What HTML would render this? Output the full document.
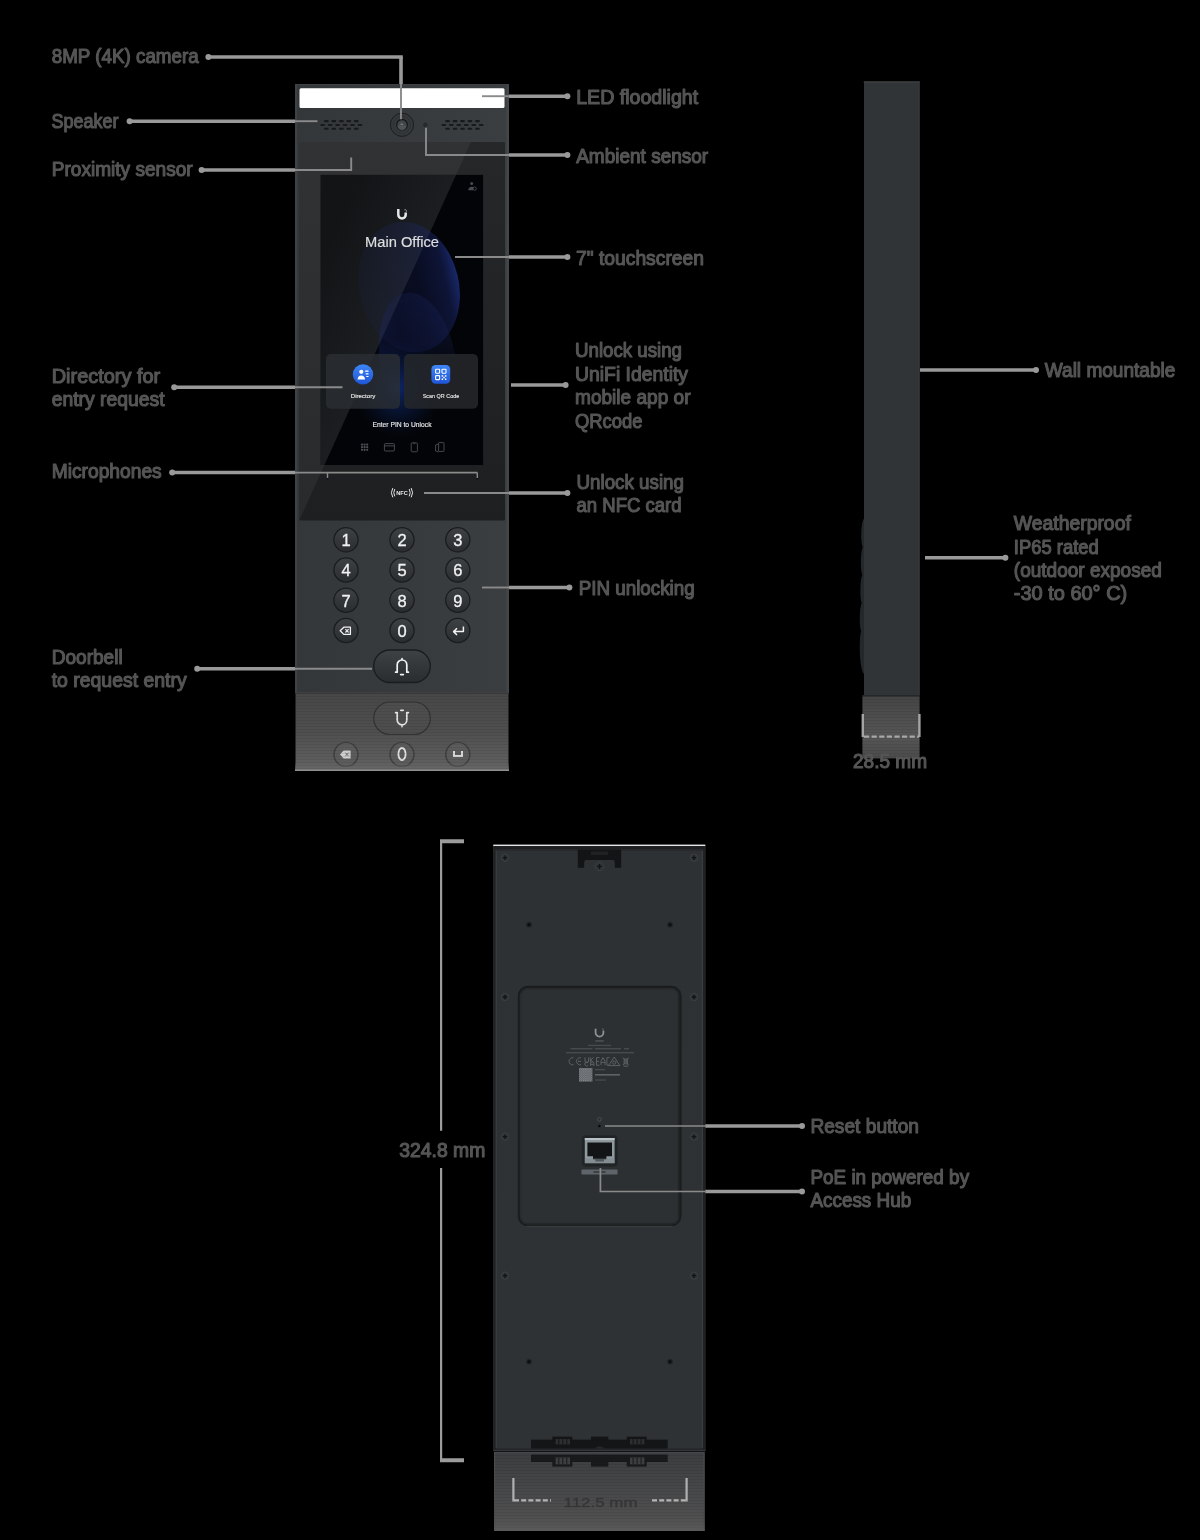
<!DOCTYPE html>
<html><head><meta charset="utf-8">
<title>Intercom overview</title>
<style>
html,body{margin:0;padding:0;background:#000;}
body{width:1200px;height:1540px;overflow:hidden;position:relative;font-family:"Liberation Sans",sans-serif;}
svg{position:absolute;left:0;top:0;display:block;will-change:transform;}
text{font-family:"Liberation Sans",sans-serif;}
.lb{font-size:20px;fill:#555;stroke:#555;stroke-width:1.15px;stroke-linejoin:round;}
.ln{stroke:#999;stroke-width:3.6;fill:none;}
.li{stroke:#8a8a8a;stroke-width:1.9;fill:none;}
.dt{fill:#999;}
.kd{font-size:16.5px;fill:#f2f2f2;text-anchor:middle;stroke:#f2f2f2;stroke-width:.3px;}
</style></head>
<body>
<svg width="1200" height="1540" viewBox="0 0 1200 1540">
<defs>
<linearGradient id="bodyG" x1="0" y1="0" x2="1" y2="0">
 <stop offset="0" stop-color="#33373a"/><stop offset="1" stop-color="#3a3e41"/>
</linearGradient>
<linearGradient id="keyG" x1="0" y1="0" x2="0" y2="1">
 <stop offset="0" stop-color="#3e4245"/><stop offset=".5" stop-color="#33373a"/><stop offset="1" stop-color="#2a2d30"/>
</linearGradient>
<linearGradient id="reflG" x1="0" y1="0" x2="0" y2="1">
 <stop offset="0" stop-color="#474747"/><stop offset=".5" stop-color="#4f4f4f"/><stop offset="1" stop-color="#626262"/>
</linearGradient>
<linearGradient id="reflB" x1="0" y1="0" x2="0" y2="1">
 <stop offset="0" stop-color="#3b3d3f"/><stop offset="1" stop-color="#535353"/>
</linearGradient>
<radialGradient id="blob" cx="0.5" cy="0.5" r="0.5">
 <stop offset="0" stop-color="#1d2a6e"/><stop offset=".7" stop-color="#18225a"/><stop offset="1" stop-color="#0b1030" stop-opacity="0"/>
</radialGradient>
<clipPath id="scr"><rect x="320.800" y="174.900" width="162.300" height="290.100"/></clipPath>
<clipPath id="gls"><rect x="299" y="142" width="206" height="378.5"/></clipPath>
<linearGradient id="scrRef" gradientUnits="userSpaceOnUse" x1="320" y1="260" x2="440" y2="315">
 <stop offset="0" stop-color="#0e0f11"/><stop offset="1" stop-color="#1c1e21"/>
</linearGradient>
<linearGradient id="blobA" x1="0" y1="0" x2="1" y2="0">
 <stop offset="0" stop-color="#182260" stop-opacity=".12"/><stop offset=".6" stop-color="#182260" stop-opacity=".3"/><stop offset=".86" stop-color="#182464" stop-opacity=".5"/><stop offset="1" stop-color="#1a2a6e" stop-opacity=".95"/>
</linearGradient>
<linearGradient id="blobB" x1="0" y1="0" x2="1" y2="0">
 <stop offset="0" stop-color="#1a2668" stop-opacity=".5"/><stop offset=".35" stop-color="#1a2460" stop-opacity=".25"/><stop offset="1" stop-color="#1b2868" stop-opacity=".35"/>
</linearGradient>
<linearGradient id="icoG" x1="0" y1="0" x2="0" y2="1">
 <stop offset="0" stop-color="#3d86f5"/><stop offset="1" stop-color="#1f55d8"/>
</linearGradient>
<linearGradient id="reflFade" x1="0" y1="0" x2="0" y2="1">
 <stop offset="0" stop-color="#666" stop-opacity="0"/><stop offset=".8" stop-color="#686868" stop-opacity=".8"/><stop offset=".86" stop-color="#8e8e8e"/><stop offset="1" stop-color="#8e8e8e"/>
</linearGradient>
<pattern id="scan" width="4" height="3" patternUnits="userSpaceOnUse"><rect width="4" height="1" fill="#000" fill-opacity=".07"/></pattern>
<linearGradient id="reflS" x1="0" y1="0" x2="0" y2="1">
 <stop offset="0" stop-color="#454545"/><stop offset=".65" stop-color="#565656"/><stop offset="1" stop-color="#4a4a4a"/>
</linearGradient>
<linearGradient id="backG" x1="0" y1="0" x2="0" y2="1">
 <stop offset="0" stop-color="#2e3133"/><stop offset="1" stop-color="#2f3234"/>
</linearGradient>
<linearGradient id="reflBF" x1="0" y1="0" x2="0" y2="1">
 <stop offset="0" stop-color="#555" stop-opacity="0"/><stop offset="1" stop-color="#5e5e5e" stop-opacity=".7"/>
</linearGradient>
<pattern id="qrp" width="2.200" height="2.200" patternUnits="userSpaceOnUse"><rect width="2.200" height="2.200" fill="#5a5e62"/><rect width="1.100" height="1.100" fill="#8b9094"/><rect x="1.100" y="1.100" width="1.100" height="1.100" fill="#7b8084"/></pattern>
<linearGradient id="glsG" x1="0" y1="0" x2="0" y2="1">
 <stop offset="0" stop-color="#252729"/><stop offset="1" stop-color="#1d1f20"/>
</linearGradient>
<radialGradient id="glowB" cx=".5" cy=".5" r=".5">
 <stop offset="0" stop-color="#103080" stop-opacity=".75"/><stop offset=".45" stop-color="#0e2a70" stop-opacity=".4"/><stop offset="1" stop-color="#0a1f50" stop-opacity="0"/>
</radialGradient>
<linearGradient id="fadeG" gradientUnits="userSpaceOnUse" x1="0" y1="292" x2="0" y2="400">
 <stop offset="0" stop-color="#fff"/><stop offset=".5" stop-color="#fff" stop-opacity=".7"/><stop offset="1" stop-color="#fff" stop-opacity="0"/>
</linearGradient>
<mask id="fadeM" maskUnits="userSpaceOnUse" x="300" y="280" width="220" height="200"><rect x="300" y="280" width="220" height="200" fill="url(#fadeG)"/></mask>
<filter id="b1" x="-5%" y="-5%" width="110%" height="110%"><feGaussianBlur stdDeviation="1.300"/></filter>
<clipPath id="pnl"><rect x="518" y="986" width="163.200" height="240" rx="9.500"/></clipPath>
</defs>

<!-- ================= FRONT DEVICE ================= -->
<g id="front">
<rect x="295" y="84" width="214" height="608" fill="url(#bodyG)"/>
<rect x="295" y="84" width="2.2" height="608" fill="#3e4245"/>
<rect x="506.400" y="84" width="2.600" height="608" fill="#43474a"/>
<rect x="295" y="84" width="214" height="1.2" fill="#3d4144"/>
<!-- LED -->
<rect x="299.5" y="88.2" width="205" height="19.8" rx="1.5" fill="#fff"/>
</g>
<g id="front-detail">
<!-- speaker grilles -->
<g fill="#17191a">
<g id="grl">
<rect x="324" y="120.1" width="4.7" height="2.1" rx="1"/><rect x="331.5" y="120.1" width="4.7" height="2.1" rx="1"/><rect x="339" y="120.1" width="4.7" height="2.1" rx="1"/><rect x="346.4" y="120.1" width="4.7" height="2.1" rx="1"/><rect x="353.9" y="120.1" width="4.7" height="2.1" rx="1"/>
<rect x="320.3" y="123.9" width="4.7" height="2.1" rx="1"/><rect x="327.8" y="123.9" width="4.7" height="2.1" rx="1"/><rect x="335.2" y="123.9" width="4.7" height="2.1" rx="1"/><rect x="342.7" y="123.9" width="4.7" height="2.1" rx="1"/><rect x="350.2" y="123.9" width="4.7" height="2.1" rx="1"/><rect x="357.6" y="123.9" width="4.7" height="2.1" rx="1"/>
<rect x="324" y="127.7" width="4.7" height="2.1" rx="1"/><rect x="331.5" y="127.7" width="4.7" height="2.1" rx="1"/><rect x="339" y="127.7" width="4.7" height="2.1" rx="1"/><rect x="346.4" y="127.7" width="4.7" height="2.1" rx="1"/><rect x="353.9" y="127.7" width="4.7" height="2.1" rx="1"/>
</g>
<use href="#grl" x="121.2"/>
</g>
<!-- camera -->
<circle cx="402" cy="124.800" r="11.600" fill="#34383a" stroke="#1b1d1f" stroke-width="1"/>
<circle cx="402" cy="124.800" r="8.600" fill="none" stroke="#2c2f31" stroke-width=".7"/>
<circle cx="402" cy="124.800" r="5.300" fill="#42464a" stroke="#161819" stroke-width="1.300"/>
<path d="M397.400 125.600a4.600 4.600 0 0 0 9.200 0z" fill="#4f5356"/>
<ellipse cx="401.800" cy="124.200" rx="1.500" ry=".8" fill="#7d8184"/>
<!-- ambient sensor -->
<circle cx="425.300" cy="124.800" r="1.700" fill="#2b2e30" stroke="#1f2123" stroke-width=".8"/>
<!-- glass -->
<rect x="299.2" y="142" width="205.8" height="378.6" rx="1" fill="url(#glsG)"/>
<g clip-path="url(#gls)">
<polygon points="299.2,142 471,142 299.2,520.6" fill="#fff" fill-opacity=".05"/>
</g>
<!-- screen -->
<rect x="320.800" y="174.900" width="162.300" height="290.100" fill="#030407"/>
<g clip-path="url(#scr)">
<polygon points="299.2,142 471,142 299.2,520.6" fill="url(#scrRef)"/>
<ellipse cx="409" cy="287" rx="50" ry="66" transform="rotate(-13 409 287)" fill="url(#blobA)"/>
<ellipse cx="418" cy="362" rx="38" ry="70" transform="rotate(-10 418 362)" fill="url(#blobB)" mask="url(#fadeM)"/>
<ellipse cx="398" cy="388" rx="44" ry="50" fill="url(#glowB)"/>
<polygon points="299.2,142 471,142 299.2,520.6" fill="#9aa0b0" fill-opacity=".035"/>
</g>
</g>
<g id="screen-ui">
<!-- user icon -->
<g fill="#474b52"><circle cx="471.7" cy="183.6" r="1.5"/><path d="M468.3 190.2c0-2.2 1.5-3.4 3.4-3.4 .9 0 1.6 .2 2.2 .7l-1 2.7z"/><circle cx="474.6" cy="188.6" r="1.7" fill="none" stroke="#474b52" stroke-width=".9"/></g>
<!-- U logo -->
<path d="M398.300 209v5.700a3.700 3.700 0 0 0 7.400 0v-2.200" fill="none" stroke="#e4e4e4" stroke-width="2.500"/>
<path d="M404.600 209.200h1.100v1.100h-1.100zM405.900 210.600h1v1h-1z" fill="#cfcfcf"/>
<text x="402" y="247.3" text-anchor="middle" textLength="74" lengthAdjust="spacingAndGlyphs" style="font-size:15.5px;fill:#dedede;stroke:#dedede;stroke-width:.2px">Main Office</text>
<!-- tiles -->
<rect x="326" y="354" width="74" height="54.8" rx="5" fill="#2b2e33" fill-opacity=".82"/>
<rect x="404" y="354" width="74" height="54.8" rx="5" fill="#24262a" fill-opacity=".9"/>
<circle cx="363" cy="374.4" r="10.2" fill="url(#icoG)"/>
<g fill="#fff"><circle cx="361.3" cy="371.8" r="2.1"/><path d="M357.6 379.5c0-2.6 1.6-4 3.7-4s3.7 1.4 3.7 4z"/><rect x="365" y="370.6" width="3.6" height="1.1" rx=".5"/><rect x="365.6" y="373.3" width="3" height="1.1" rx=".5"/><rect x="366.2" y="376" width="2.4" height="1.1" rx=".5"/></g>
<rect x="431.4" y="365" width="18.8" height="18.8" rx="4.2" fill="url(#icoG)"/>
<g fill="none" stroke="#fff" stroke-width="1.1"><rect x="435.6" y="369.2" width="4" height="4" rx=".6"/><rect x="442" y="369.2" width="4" height="4" rx=".6"/><rect x="435.6" y="375.6" width="4" height="4" rx=".6"/></g>
<g fill="#fff"><rect x="441.6" y="375.2" width="1.5" height="1.5"/><rect x="444.9" y="375.2" width="1.5" height="1.5"/><rect x="443.2" y="376.8" width="1.5" height="1.5"/><rect x="441.6" y="378.5" width="1.5" height="1.5"/><rect x="444.9" y="378.5" width="1.5" height="1.5"/></g>
<text x="363" y="398.2" text-anchor="middle" textLength="24.5" lengthAdjust="spacingAndGlyphs" style="font-size:6.2px;fill:#e4e4e4;stroke:#e4e4e4;stroke-width:.15px">Directory</text>
<text x="441" y="398.2" text-anchor="middle" textLength="36.5" lengthAdjust="spacingAndGlyphs" style="font-size:6.2px;fill:#e4e4e4;stroke:#e4e4e4;stroke-width:.15px">Scan QR Code</text>
<text x="402" y="427.3" text-anchor="middle" textLength="59" lengthAdjust="spacingAndGlyphs" style="font-size:7.2px;fill:#e8e8e8;stroke:#e8e8e8;stroke-width:.15px">Enter PIN to Unlock</text>
<!-- bottom icons -->
<g fill="#4c5056"><circle cx="362" cy="444.6" r="1.1"/><circle cx="364.6" cy="444.6" r="1.1"/><circle cx="367.2" cy="444.6" r="1.1"/><circle cx="362" cy="447.2" r="1.1"/><circle cx="364.6" cy="447.2" r="1.1"/><circle cx="367.2" cy="447.2" r="1.1"/><circle cx="362" cy="449.8" r="1.1"/><circle cx="364.6" cy="449.8" r="1.1"/><circle cx="367.2" cy="449.8" r="1.1"/></g>
<g fill="none" stroke="#4c5056" stroke-width=".9"><rect x="384.4" y="443.6" width="10" height="7.4" rx="1"/><path d="M384.4 445.9h10"/><rect x="411.2" y="442.8" width="6.2" height="9" rx="1"/><path d="M413.4 443.6h1.8"/><rect x="438.6" y="442.6" width="5.4" height="8.8" rx=".6"/><path d="M438.6 444l-3 1v6l3 1"/></g>
</g>
<!-- microphone holes -->
<circle cx="327.5" cy="478.6" r=".9" fill="#0d0e0f"/><circle cx="477.3" cy="478.6" r=".9" fill="#0d0e0f"/>
<!-- NFC -->
<g fill="none" stroke="#e6e6e6" stroke-width="1" stroke-linecap="round"><path d="M394.6 489.4q-1.8 3.3 0 6.6M392.6 488.4q-2.6 4.3 0 8.6M409.4 489.4q1.8 3.3 0 6.6M411.4 488.4q2.6 4.3 0 8.6"/></g>
<text x="402" y="494.7" text-anchor="middle" textLength="11.6" lengthAdjust="spacingAndGlyphs" style="font-size:5.4px;font-weight:bold;fill:#e6e6e6">NFC</text>
<!-- keypad -->
<g id="keys">
<g fill="url(#keyG)" stroke="#1a1c1e" stroke-width="1.3">
<circle cx="346" cy="539.800" r="12.100"/><circle cx="402" cy="539.800" r="12.100"/><circle cx="457.8" cy="539.800" r="12.100"/>
<circle cx="346" cy="570" r="12.100"/><circle cx="402" cy="570" r="12.100"/><circle cx="457.8" cy="570" r="12.100"/>
<circle cx="346" cy="600.200" r="12.100"/><circle cx="402" cy="600.200" r="12.100"/><circle cx="457.8" cy="600.200" r="12.100"/>
<circle cx="346" cy="630.500" r="12.100"/><circle cx="402" cy="630.500" r="12.100"/><circle cx="457.8" cy="630.500" r="12.100"/>
<rect x="373.7" y="650" width="56.6" height="32.5" rx="16.25"/>
</g>
<text class="kd" x="346" y="546.2">1</text><text class="kd" x="402" y="546.2">2</text><text class="kd" x="457.8" y="546.2">3</text>
<text class="kd" x="346" y="576.4">4</text><text class="kd" x="402" y="576.4">5</text><text class="kd" x="457.8" y="576.4">6</text>
<text class="kd" x="346" y="606.6">7</text><text class="kd" x="402" y="606.6">8</text><text class="kd" x="457.8" y="606.6">9</text>
<text class="kd" x="402" y="636.8">0</text>
<!-- backspace -->
<path d="M340.2 630.8l3.6-3.6h6.6v7.2h-6.6z" fill="none" stroke="#f2f2f2" stroke-width="1.3" stroke-linejoin="round"/>
<path d="M345.4 629.1l3.2 3.4M348.6 629.1l-3.2 3.4" stroke="#f2f2f2" stroke-width="1.1"/>
<!-- enter -->
<path d="M463.4 626.4v5.2h-9.6M457 628.2l-3.4 3.4 3.4 3.4" fill="none" stroke="#f2f2f2" stroke-width="1.5" stroke-linejoin="round"/>
<!-- bell -->
<path d="M395.600 672.200h1.600v-7.400a4.800 4.800 0 0 1 9.600 0v7.400h1.600M402 658.600v1.400" fill="none" stroke="#f2f2f2" stroke-width="1.700" stroke-linecap="round" stroke-linejoin="round"/>
<path d="M400.600 674.600h2.800" stroke="#f2f2f2" stroke-width="1.600" stroke-linecap="round"/>
</g>
<!-- front reflection -->
<g id="front-refl">
<rect x="295" y="692" width="214" height="1.600" fill="#3e4042"/>
<rect x="295.5" y="693.4" width="213" height="77" fill="url(#reflG)"/>
<rect x="373.7" y="702" width="56.6" height="32.5" rx="16.25" fill="#4d4d4d" stroke="#333" stroke-width="1.2"/>
<path d="M395.600 712.600h1.600v7.400a4.800 4.800 0 0 0 9.600 0v-7.400h1.600M402 725v1.600" fill="none" stroke="#e4e4e4" stroke-width="1.700" stroke-linecap="round" stroke-linejoin="round"/>
<path d="M400.800 710.400h2.400" stroke="#e4e4e4" stroke-width="1.600" stroke-linecap="round"/>
<g fill="#5b5b5b" stroke="#3e3e3e" stroke-width="1.4"><circle cx="346" cy="754.4" r="12"/><circle cx="402" cy="754.4" r="12"/><circle cx="457.8" cy="754.4" r="12"/></g>
<path d="M340 754.400l3.600-4h7v8h-7z" fill="#cdcdcd"/><path d="M345.400 752.600l3.200 3.600M348.600 752.600l-3.200 3.600" stroke="#6a6a6a" stroke-width="1"/>
<ellipse cx="402" cy="754" rx="3.6" ry="6" fill="none" stroke="#e0e0e0" stroke-width="1.8"/>
<path d="M454 751v5h8v-5" fill="none" stroke="#d8d8d8" stroke-width="2"/>
<rect x="295" y="762" width="214" height="9" fill="url(#reflFade)"/>
<rect x="295" y="693.4" width="214" height="78" fill="url(#scan)"/>
</g>
<!--FRONT-DETAIL4-->

<!-- ================= SIDE VIEW ================= -->
<g id="side">
<rect x="864" y="81.300" width="55.300" height="614" fill="#313436"/>
</g>
<g id="side-detail">
<!-- key bumps on the left -->
<path d="M864 519c-3.2 2-3.4 24-1.2 28 -2.4 4-2.4 24-.4 28 -2.4 4-2.6 24-.6 28 -2.4 4-2.6 24-.6 28 -2.2 6-2.2 36 2.800 43z" fill="#25282a"/>
<rect x="863.7" y="81.5" width="56" height="1.2" fill="#3c4043"/>
<rect x="918.6" y="81.5" width="1.1" height="614" fill="#3a3e41"/>
<!-- reflection -->
<rect x="862.4" y="695" width="57.4" height="1.6" fill="#25282a"/>
<rect x="862.4" y="696.4" width="57.2" height="62" fill="url(#reflS)"/>
<rect x="862.4" y="696.4" width="57.2" height="62" fill="url(#scan)"/>
<!-- bracket -->
<path d="M862.8 714v23M919.4 714v23" stroke="#a4a4a4" stroke-width="2.4" fill="none"/>
<path d="M864 736.6h55" stroke="#a8a8a8" stroke-width="2.2" stroke-dasharray="5.2 2.4" fill="none"/>
</g>


<!-- ================= BACK VIEW ================= -->
<g id="back">
<rect x="493.3" y="845" width="212" height="606" fill="#2b2e30"/>
</g>
<g id="back-detail">
<rect x="493.3" y="845" width="212" height="606" fill="url(#backG)"/>
<!-- edges -->
<rect x="493.3" y="845" width="2.6" height="606" fill="#1f2123"/>
<rect x="702.7" y="845" width="2.600" height="606" fill="#1f2123"/>
<rect x="495.6" y="848" width="1.2" height="600" fill="#3b3e41"/>
<rect x="701.7" y="848" width="1.2" height="600" fill="#3b3e41"/>
<rect x="493.3" y="844.6" width="212" height="1.5" fill="#e6e6e6"/>
<rect x="494" y="846.100" width="210.600" height="3.400" fill="#1c1e20"/><rect x="494" y="849.500" width="210.600" height="1.200" fill="#26292b"/>
<!-- top notch -->
<path d="M577.800 849.400h43.400v18.400h-6.400v-5.600q0-2.200-2.200-2.200h-26.200q-2.200 0-2.200 2.200v5.600h-6.400z" fill="#131415"/>
<rect x="591" y="851.4" width="17" height="3.600" fill="#1f2123"/>
<!-- screws -->
<g id="scrw"><circle cx="505" cy="857.7" r="3.700" fill="#303335" stroke="#3c3f42" stroke-width=".9"/><path d="M502.800 857.700h4.400M505 855.500v4.400" stroke="#121314" stroke-width="1.300"/></g>
<use href="#scrw" x="189"/>
<circle cx="599.500" cy="866.400" r="4.500" fill="#303335" stroke="#3b3e41" stroke-width=".9"/><path d="M597 866.400h5M599.500 863.900v5" stroke="#121314" stroke-width="1.400"/>
<use href="#scrw" y="139.300"/><use href="#scrw" x="189" y="139.300"/>
<use href="#scrw" y="279"/><use href="#scrw" x="189" y="279"/>
<use href="#scrw" y="418"/><use href="#scrw" x="189" y="418"/>
<!-- small holes -->
<g fill="#0d0e0f" stroke="#222426" stroke-width="1.200"><circle cx="529" cy="924.700" r="2.300"/><circle cx="670" cy="924.700" r="2.300"/><circle cx="529" cy="1361.700" r="2.300"/><circle cx="670" cy="1361.700" r="2.300"/></g>
<!-- inner panel -->
<rect x="518" y="986" width="163.200" height="240" rx="9.500" fill="#2d3032"/>
<g clip-path="url(#pnl)"><rect x="517.600" y="985.800" width="164" height="241" rx="9.500" fill="none" stroke="#141617" stroke-width="4.500" filter="url(#b1)"/></g>
<rect x="518.300" y="986.300" width="162.600" height="239.400" rx="9.300" fill="none" stroke="#1b1d1f" stroke-width="1"/>
<path d="M527 1226.400h145" stroke="#3d4043" stroke-width="1"/>
<!-- U logo + regulatory -->
<path d="M595.600 1028.800v3.900a3.900 3.900 0 0 0 7.800 0v-2.100" fill="none" stroke="#8d9296" stroke-width="1.800"/>
<rect x="602.400" y="1028.600" width="1" height="1" fill="#8d9296"/>
<rect x="595.400" y="1040.400" width="8.400" height="1.100" fill="#5a5e61"/>
<g fill="#474b4e">
<rect x="588" y="1044.800" width="23" height="1.300"/>
<rect x="570.500" y="1048" width="22" height="1.400"/><rect x="595" y="1048" width="26" height="1.400"/><rect x="624" y="1048" width="5" height="1.400"/>
<rect x="566" y="1052" width="68" height="1.400"/>
<rect x="595" y="1069" width="10" height="1.300"/><rect x="595" y="1079.400" width="11" height="1.300"/>
<rect x="595" y="1074" width="25" height="1.600" fill="#5e6265"/>
</g>
<!-- cert marks -->
<g fill="none" stroke="#5c6064" stroke-width="1">
<path d="M573.500 1057.800a3.600 3.600 0 1 0 0 7"/><path d="M581 1057.800a3.600 3.600 0 1 0 0 7M578 1061.300h3"/>
<path d="M585 1057.400v3.600a1.800 1.800 0 0 0 3.600 0v-3.600M590.400 1057.400v5M593.600 1057.400l-3 2.600 3 2.400M588 1062.400a2 2 0 1 0 0 3.200M590.600 1066v-3.200l1.600-1 1.600 1v3.200M590.600 1064.400h3.200"/>
<path d="M599.500 1057.600h-3v7.600h3M596.500 1061.400h2.600M601 1065.200v-4l2-3.600 2 3.600v4M601 1062.400h4M609.500 1057.600h-2.600v7.600h2.600"/>
<path d="M608.600 1065.600l5.600-8.600 5.600 8.600z"/><circle cx="614.200" cy="1062.600" r="1.600"/>
<path d="M623 1057.600l5.600 7.600M628.600 1057.600l-5.600 7.600M624.200 1059h3.200v4.800h-3.200zM623.600 1066.200h4.400"/>
</g>
<rect x="579" y="1068" width="13.400" height="13.600" fill="url(#qrp)"/>
<!-- reset -->
<circle cx="599.400" cy="1119.400" r="1.900" fill="none" stroke="#50545a" stroke-width=".8"/>
<circle cx="599.400" cy="1126" r="1.300" fill="#060707"/>
<!-- ethernet -->
<rect x="582" y="1135.600" width="35.400" height="30.600" rx="3" fill="#212325" stroke="#26292b" stroke-width=".8"/>
<rect x="584.800" y="1138" width="29.800" height="25.200" fill="#8e999e"/>
<rect x="584.800" y="1138" width="29.800" height="2" fill="#b8c2c6"/>
<path d="M587.400 1142.600h24.600v13.600h-5.600v3.200h-2.400v2h-8.600v-2h-2.400v-3.200h-5.600z" fill="#131415"/>
<path d="M584.800 1158.600h29.800v4.600h-29.800z" fill="#7d878c" fill-opacity=".6"/>
<rect x="581.400" y="1169.600" width="36.200" height="4.800" rx="1" fill="#5f646a"/>
<rect x="593.500" y="1171" width="12" height="2" fill="#3e4144"/>
<!-- bottom hinge -->
<g fill="#141516"><rect x="531" y="1439.600" width="136.700" height="9"/><rect x="552.300" y="1436.600" width="20" height="4"/><rect x="591" y="1436.600" width="17.300" height="4"/><rect x="626.700" y="1436.600" width="20" height="4"/></g>
<g fill="#2c2e30"><rect x="555.600" y="1439" width="14.400" height="5.400"/><rect x="630" y="1439" width="14.400" height="5.400"/></g>
<g fill="#1a1c1d"><rect x="558" y="1439" width="1.400" height="5.400"/><rect x="562" y="1439" width="1.400" height="5.400"/><rect x="566" y="1439" width="1.400" height="5.400"/><rect x="632.400" y="1439" width="1.400" height="5.400"/><rect x="636.400" y="1439" width="1.400" height="5.400"/><rect x="640.400" y="1439" width="1.400" height="5.400"/></g>
<ellipse cx="599.600" cy="1448" rx="4" ry="1.600" fill="#26282a"/>
<!-- bottom edge of body -->
<rect x="493.300" y="1448.600" width="212" height="3" fill="#1e2022"/>
<rect x="493.300" y="1449.800" width="212" height="1" fill="#3a3d40"/>
<!-- reflection -->
<rect x="494" y="1452" width="210.600" height="79" fill="url(#reflB)"/>
<path d="M494.600 1531V1452.600H704V1531" fill="none" stroke="#4a4c4e" stroke-width="1.200"/>
<g fill="#191a1b"><rect x="531" y="1454.600" width="136.700" height="7.400"/><rect x="552.300" y="1461" width="20" height="5.600"/><rect x="591" y="1461" width="17.300" height="5.600"/><rect x="626.700" y="1461" width="20" height="5.600"/></g>
<g fill="#3d3f41"><rect x="555.600" y="1457.400" width="14.400" height="7"/><rect x="630" y="1457.400" width="14.400" height="7"/></g>
<g fill="#222426"><rect x="558" y="1457.400" width="1.400" height="7"/><rect x="562" y="1457.400" width="1.400" height="7"/><rect x="566" y="1457.400" width="1.400" height="7"/><rect x="632.400" y="1457.400" width="1.400" height="7"/><rect x="636.400" y="1457.400" width="1.400" height="7"/><rect x="640.400" y="1457.400" width="1.400" height="7"/></g>
<rect x="494" y="1452" width="210.600" height="79" fill="url(#scan)"/>
<rect x="494" y="1516" width="210.600" height="15" fill="url(#reflBF)"/>
<text x="600.500" y="1507" text-anchor="middle" textLength="74" lengthAdjust="spacingAndGlyphs" style="font-size:13px;fill:#303030;fill-opacity:.75;stroke:#303030;stroke-width:.4px;stroke-opacity:.6">112.5 mm</text>
<!-- bracket -->
<path d="M513.400 1478v23.600M686.600 1478v23.600" stroke="#b0b0b0" stroke-width="2.200" fill="none"/>
<path d="M514 1500.400h37M652 1500.400h34" stroke="#b4b4b4" stroke-width="2.200" stroke-dasharray="5 2.200" fill="none"/>
</g>


<!-- ================= LABELS ================= -->
<g id="leaders">
<!-- outside (thick) parts -->
<g class="ln">
<path d="M208 57H402.800"/><path d="M401 57V84"/>
<path d="M129.500 121.200H295"/>
<path d="M201.500 170H295"/>
<path d="M174 387.300H295"/>
<path d="M172 472.500H295"/>
<path d="M197 668.800H295"/>
<path d="M509 96.200H567.500"/>
<path d="M509 155H567.500"/>
<path d="M509 257H567.500"/>
<path d="M511 385H565.500"/>
<path d="M509 493H567.500"/>
<path d="M509 587.500H569.500"/>
<path d="M920 370H1036"/>
<path d="M925 557.800H1005.500"/>
<path d="M705.300 1126H802"/>
<path d="M705.300 1191.500H802"/>
</g>
<!-- inside (thin) parts -->
<g class="li">
<path d="M401 84V119.300"/>
<path d="M295 121.200H317.500"/>
<path d="M295 170H351.200V157.500"/>
<path d="M295 387.300H342.500"/>
<path d="M295 472.600H477.300"/><path d="M327.500 472.600v5.300M477.300 472.600v5.300" stroke-width="1.400"/>
<path d="M295 668.800H372"/>
<path d="M482 96.200H509"/>
<path d="M426 127.800V155H509"/>
<path d="M455 257H509"/>
<path d="M424 493H509"/>
<path d="M482 587.500H509"/>
<path d="M605 1126H705.300" stroke-width="1.700"/>
<path d="M600.400 1168V1191.500H705.300" stroke-width="1.700"/>
</g>
<g class="dt">
<circle cx="208.400" cy="57" r="3"/><circle cx="129.600" cy="121.200" r="3"/><circle cx="201.600" cy="170" r="3"/><circle cx="174.200" cy="387.300" r="3"/><circle cx="172.200" cy="472.500" r="3"/><circle cx="197.200" cy="668.800" r="3"/>
<circle cx="567.400" cy="96.200" r="3"/><circle cx="567.400" cy="155" r="3"/><circle cx="567.400" cy="257" r="3"/><circle cx="565.600" cy="385" r="3"/><circle cx="567.400" cy="493" r="3"/><circle cx="569.400" cy="587.500" r="3"/>
<circle cx="1036" cy="370" r="3"/><circle cx="1005.400" cy="557.800" r="3"/>
<circle cx="802" cy="1126" r="3"/><circle cx="802" cy="1191.500" r="3"/>
</g>
<!-- dimension line for back view -->
<g stroke="#9c9c9c" fill="none">
<path d="M441.100 841V1130.700M441.100 1168V1460" stroke-width="2.200"/>
<path d="M440 841.200H464M440 1460.200H464" stroke-width="4"/>
</g>
</g>
<g id="labels" class="lb">
<text x="51.700" y="63.300" textLength="147" lengthAdjust="spacingAndGlyphs">8MP (4K) camera</text>
<text x="51.500" y="127.500" textLength="67" lengthAdjust="spacingAndGlyphs">Speaker</text>
<text x="51.700" y="176.300" textLength="141" lengthAdjust="spacingAndGlyphs">Proximity sensor</text>
<text x="51.700" y="383" textLength="108.500" lengthAdjust="spacingAndGlyphs">Directory for</text>
<text x="51.700" y="406" textLength="113" lengthAdjust="spacingAndGlyphs">entry request</text>
<text x="51.700" y="478" textLength="110" lengthAdjust="spacingAndGlyphs">Microphones</text>
<text x="51.700" y="664" textLength="71" lengthAdjust="spacingAndGlyphs">Doorbell</text>
<text x="51.700" y="687" textLength="135" lengthAdjust="spacingAndGlyphs">to request entry</text>
<text x="576.200" y="103.500" textLength="122" lengthAdjust="spacingAndGlyphs">LED floodlight</text>
<text x="576.200" y="162.500" textLength="132" lengthAdjust="spacingAndGlyphs">Ambient sensor</text>
<text x="576" y="264.500" textLength="128" lengthAdjust="spacingAndGlyphs">7" touchscreen</text>
<text x="575" y="357" textLength="107" lengthAdjust="spacingAndGlyphs">Unlock using</text>
<text x="575" y="380.700" textLength="113" lengthAdjust="spacingAndGlyphs">UniFi Identity</text>
<text x="575" y="404" textLength="115.500" lengthAdjust="spacingAndGlyphs">mobile app or</text>
<text x="575" y="427.700" textLength="67.500" lengthAdjust="spacingAndGlyphs">QRcode</text>
<text x="576.500" y="488.700" textLength="107.500" lengthAdjust="spacingAndGlyphs">Unlock using</text>
<text x="576.500" y="512" textLength="105" lengthAdjust="spacingAndGlyphs">an NFC card</text>
<text x="578.700" y="594.500" textLength="116" lengthAdjust="spacingAndGlyphs">PIN unlocking</text>
<text x="1044.800" y="377.300" textLength="130.500" lengthAdjust="spacingAndGlyphs">Wall mountable</text>
<text x="1013.800" y="530" textLength="117" lengthAdjust="spacingAndGlyphs">Weatherproof</text>
<text x="1013.800" y="553.700" textLength="85" lengthAdjust="spacingAndGlyphs">IP65 rated</text>
<text x="1013.800" y="576.800" textLength="148" lengthAdjust="spacingAndGlyphs">(outdoor exposed</text>
<text x="1013.800" y="600" textLength="113.400" lengthAdjust="spacingAndGlyphs">-30 to 60° C)</text>
<text x="853" y="768" textLength="74" lengthAdjust="spacingAndGlyphs">28.5 mm</text>
<text x="399.300" y="1156.700" textLength="86" lengthAdjust="spacingAndGlyphs">324.8 mm</text>
<text x="810.400" y="1132.500" textLength="108.600" lengthAdjust="spacingAndGlyphs">Reset button</text>
<text x="810.400" y="1184" textLength="158.700" lengthAdjust="spacingAndGlyphs">PoE in powered by</text>
<text x="810.400" y="1207.400" textLength="100.800" lengthAdjust="spacingAndGlyphs">Access Hub</text>
</g>

</svg>
</body></html>
